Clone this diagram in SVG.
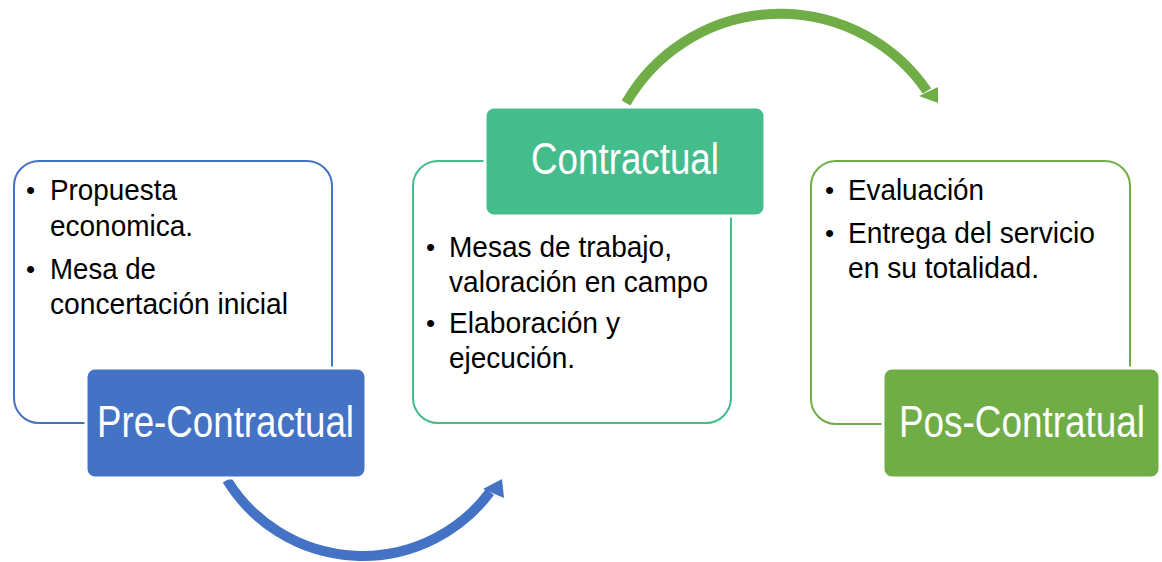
<svg xmlns="http://www.w3.org/2000/svg" width="1162" height="562" viewBox="0 0 1162 562">
  <style>
    .body { font-family: "Liberation Sans", Arial, sans-serif; font-size: 30px; fill: #000000; }
    .bullet { font-family: "Liberation Sans", Arial, sans-serif; font-size: 26px; fill: #000000; }
    .label { font-family: "Liberation Sans", Arial, sans-serif; font-size: 45px; fill: #ffffff; }
    .outline { fill: #ffffff; stroke-width: 2; }
    .tab { stroke: #ffffff; stroke-width: 3; }
    .arc { fill: none; stroke-width: 10; }
  </style>
  <rect width="1162" height="562" fill="#ffffff"/>
  <g id="connectors">
    <path class="arc" stroke="#4472C4" d="M 227 480 A 159 159 0 0 0 490 492"/>
    <polygon fill="#4472C4" points="502,479 483,489 504,498"/>
    <path class="arc" stroke="#70AD47" d="M 626 103 A 178 178 0 0 1 927 91"/>
    <polygon fill="#70AD47" points="938,103 938,87 919,96"/>
  </g>
  <g id="pre-contractual">
    <rect class="outline" stroke="#4472C4" x="14" y="161" width="318" height="262" rx="25"/>
    <text class="bullet" x="26" y="199">•</text>
    <text class="body" x="50" y="200" textLength="127" lengthAdjust="spacingAndGlyphs">Propuesta</text>
    <text class="body" x="50" y="236" textLength="143" lengthAdjust="spacingAndGlyphs">economica.</text>
    <text class="bullet" x="26" y="278">•</text>
    <text class="body" x="50" y="279" textLength="106" lengthAdjust="spacingAndGlyphs">Mesa de</text>
    <text class="body" x="50" y="314" textLength="238" lengthAdjust="spacingAndGlyphs">concertación inicial</text>
    <rect class="tab" fill="#4472C4" x="86" y="368" width="280" height="110" rx="9"/>
    <text class="label" transform="translate(97 437) scale(0.816 1)">Pre-Contractual</text>
  </g>
  <g id="contractual">
    <rect class="outline" stroke="#44BC8C" x="413" y="161" width="318" height="262" rx="25"/>
    <text class="bullet" x="426" y="256">•</text>
    <text class="body" x="449" y="257" textLength="223" lengthAdjust="spacingAndGlyphs">Mesas de trabajo,</text>
    <text class="body" x="449" y="292" textLength="259" lengthAdjust="spacingAndGlyphs">valoración en campo</text>
    <text class="bullet" x="426" y="332">•</text>
    <text class="body" x="449" y="333" textLength="171" lengthAdjust="spacingAndGlyphs">Elaboración y</text>
    <text class="body" x="449" y="368" textLength="126" lengthAdjust="spacingAndGlyphs">ejecución.</text>
    <rect class="tab" fill="#44BC8C" x="485" y="107" width="280" height="109" rx="9"/>
    <text class="label" transform="translate(531 174) scale(0.817 1)">Contractual</text>
  </g>
  <g id="pos-contratual">
    <rect class="outline" stroke="#70AD47" x="811" y="161" width="319" height="263" rx="25"/>
    <text class="bullet" x="825" y="199">•</text>
    <text class="body" x="848" y="200" textLength="136" lengthAdjust="spacingAndGlyphs">Evaluación</text>
    <text class="bullet" x="825" y="242">•</text>
    <text class="body" x="848" y="243" textLength="247" lengthAdjust="spacingAndGlyphs">Entrega del servicio</text>
    <text class="body" x="848" y="278" textLength="191" lengthAdjust="spacingAndGlyphs">en su totalidad.</text>
    <rect class="tab" fill="#70AD47" x="883" y="368" width="277" height="110" rx="9"/>
    <text class="label" transform="translate(899 437) scale(0.82 1)">Pos-Contratual</text>
  </g>
</svg>
